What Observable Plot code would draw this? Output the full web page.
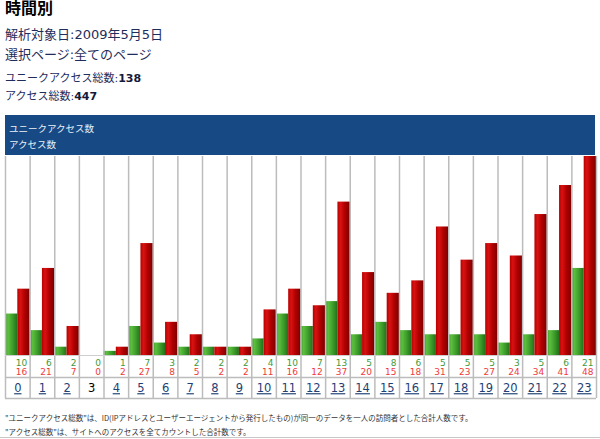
<!DOCTYPE html>
<html>
<head>
<meta charset="utf-8">
<script src="https://cdn.jsdelivr.net/npm/d3@7"></script>
<script src="https://cdn.jsdelivr.net/npm/@observablehq/plot@0.6"></script>
<style>
  body { margin: 0; background: #fff; width: 600px; height: 439px; position: relative; overflow: hidden;
         font-family: "DejaVu Sans", "Noto Sans CJK JP", sans-serif; }
  .abs { position: absolute; left: 5px; white-space: nowrap; }
  #title { top: 0; font-size: 16px; font-weight: bold; line-height: 18px; color: #000; }
  .info { font-size: 13px; line-height: 16px; color: #1f2d5c; }
  .total { font-size: 11px; line-height: 14px; color: #1f2d5c; }
  .total b { color: #111a3a; }
  #legend { position: absolute; left: 5px; top: 115px; width: 590px; height: 40px; background: #174a84; }
  #legend div { position: absolute; left: 4px; font-size: 9.5px; line-height: 12px; color: #eef2f8;
                font-family: "Noto Sans CJK JP", sans-serif; }
  #chart { position: absolute; left: 0; top: 155px; }
  .note { font-size: 7.5px; line-height: 10px; color: #333; font-family: "Noto Sans CJK JP", sans-serif; }
  #rule { position: absolute; left: 0; top: 437px; width: 600px; height: 1px; background: #c8c8c8; }
</style>
</head>
<body>
<div id="title" class="abs">時間別</div>
<div class="abs info" style="top:27px">解析対象日:2009年5月5日</div>
<div class="abs info" style="top:47px">選択ページ:全てのページ</div>
<div class="abs total" style="top:72px">ユニークアクセス総数:<b id="uTotal"></b></div>
<div class="abs total" style="top:90px">アクセス総数:<b id="aTotal"></b></div>
<div id="legend">
  <div style="top:7px">ユニークアクセス数</div>
  <div style="top:23px">アクセス数</div>
</div>
<div id="chart"></div>
<div class="abs note" style="top:413px">"ユニークアクセス総数"は、ID(IPアドレスとユーザーエージェントから発行したもの)が同一のデータを一人の訪問者とした合計人数です。</div>
<div class="abs note" style="top:427px">"アクセス総数"は、サイトへのアクセスを全てカウントした合計数です。</div>
<div id="rule"></div>
<script>
// Hourly access counts for 2009-05-05
const hours = [0, 1, 2, 3, 4, 5, 6, 7, 8, 9, 10, 11, 12, 13, 14, 15, 16, 17, 18, 19, 20, 21, 22, 23];
const uniqueAccess = [10, 6, 2, 0, 1, 7, 3, 2, 2, 2, 4, 10, 7, 13, 5, 8, 6, 5, 5, 5, 3, 5, 6, 21];
const totalAccess = [16, 21, 7, 0, 2, 27, 8, 5, 2, 2, 11, 16, 12, 37, 20, 15, 18, 31, 23, 27, 24, 34, 41, 48];

document.getElementById("uTotal").textContent = d3.sum(uniqueAccess);
document.getElementById("aTotal").textContent = d3.sum(totalAccess);

const rows = hours.map((h, i) => ({hour: h, unique: uniqueAccess[i], total: totalAccess[i]}));
const edges = [...hours, hours.length];

const svg = Plot.plot({
  width: 600,
  height: 245,
  marginTop: 1,
  marginBottom: 45,
  marginLeft: 5,
  marginRight: 4,
  x: {domain: [0, hours.length], axis: null},
  y: {domain: [0, d3.max(totalAccess)], axis: null},
  style: {background: "transparent", fontFamily: "DejaVu Sans, Noto Sans CJK JP, sans-serif"},
  marks: [
    // unique visitors (left half of each hour cell)
    Plot.rectY(rows, {x1: d => d.hour, x2: d => d.hour + 0.5, y: "unique", fill: "url(#gradUnique)"}),
    // all accesses (right half of each hour cell)
    Plot.rectY(rows, {x1: d => d.hour + 0.5, x2: d => d.hour + 1, y: "total", fill: "url(#gradTotal)"}),
    // table grid
    Plot.ruleX(edges, {stroke: "#bcbcbc", strokeWidth: 1.5, insetBottom: -43}),
    Plot.ruleY([0], {stroke: "#cfcfcf"}),
    Plot.ruleY([0], {stroke: "#bcbcbc", strokeWidth: 1.5, dy: 22}),
    Plot.ruleY([0], {stroke: "#bcbcbc", strokeWidth: 1.5, dy: 43}),
    // value row
    Plot.text(rows, {x: d => d.hour + 1, y: 0, text: "unique", dx: -3, dy: 7.5, textAnchor: "end",
                     fill: "#3f9a3a", fontSize: 9}),
    Plot.text(rows, {x: d => d.hour + 1, y: 0, text: "total", dx: -3, dy: 17, textAnchor: "end",
                     fill: "#f03a3a", fontSize: 9}),
    // hour labels: hours with data are links
    Plot.text(rows.filter(d => d.total > 0), {x: d => d.hour + 0.5, y: 0, text: "hour", dy: 33,
                     fill: "#1f3f75", fontSize: 11.5, ariaDescription: "hour-links"}),
    Plot.text(rows.filter(d => d.total === 0), {x: d => d.hour + 0.5, y: 0, text: "hour", dy: 33,
                     fill: "#000", fontSize: 11.5})
  ]
});

// bar shading
const defs = d3.select(svg).insert("defs", ":first-child");
function gradient(id, stops) {
  const g = defs.append("linearGradient").attr("id", id).attr("x1", 0).attr("x2", 1).attr("y1", 0).attr("y2", 0);
  stops.forEach(([o, c]) => g.append("stop").attr("offset", o).attr("stop-color", c));
}
gradient("gradUnique", [[0, "#3f9a2c"], [0.25, "#5cbf3e"], [0.6, "#3f9e2c"], [1, "#22701a"]]);
gradient("gradTotal", [[0, "#b80000"], [0.25, "#d81212"], [0.6, "#b00000"], [1, "#7c0000"]]);

d3.select(svg).selectAll('g[aria-description="hour-links"] text').style("text-decoration", "underline");

document.getElementById("chart").append(svg);
</script>
</body>
</html>
